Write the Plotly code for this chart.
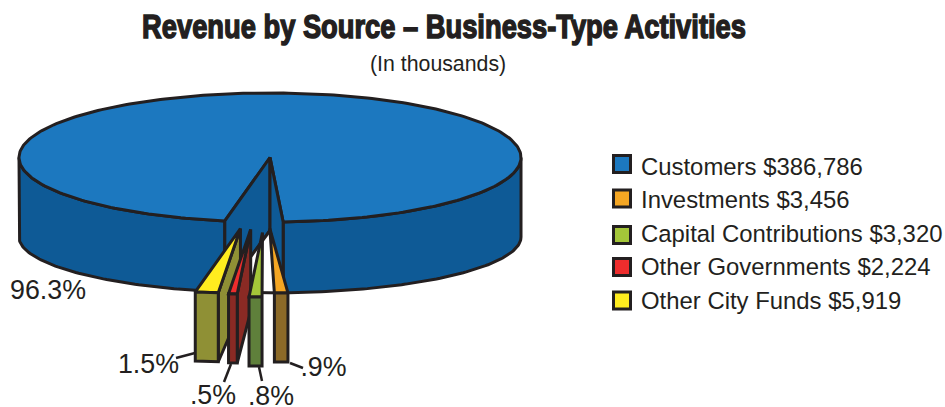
import numpy as np
import plotly.graph_objects as go

# Revenue by source, in thousands of dollars
sources = ["Customers", "Investments", "Capital Contributions", "Other Governments", "Other City Funds"]
revenue = [386786, 3456, 3320, 2224, 5919]
percent_labels = ["96.3%", ".9%", ".8%", ".5%", "1.5%"]

top_colors = ["#1c78bf", "#f5a623", "#a4c639", "#ee2d2d", "#ffec1f"]
side_colors = ["#0e5a96", "#8c6a28", "#5f803b", "#8a2a24", "#8f9035"]
INK = "#231f20"

# Projection of the tilted pie, expressed in the pixel-like axis units
CX, CY, RX, RY = 270, 157.5, 251, 64.5     # top ellipse
BASE_CY, BASE_RY = 237, 56                 # bottom ellipse (perspective squeezes it)
APEX_DROP = 73                             # height of the cut-out walls at the centre
FRONT_DROP = 69                            # height of a pulled-out slice's front face
TIP_DROP = 82                              # height of a pulled-out slice at its tip
START_DEG = 87                             # where the first small slice begins

# How the small slices are pulled out (Investments .. Other City Funds)
pull_radius = [190, 272, 272, 220]
pull_drop = [71, 75, 72, 71]
tip_nudge = [-5, 0, 0, 0]

TEXT_DY = 2.5                              # optical centring of scatter text


def top_pt(t):
    r = np.radians(t)
    return CX + RX * np.cos(r), CY + RY * np.sin(r)


def base_pt(t):
    r = np.radians(t)
    return CX + RX * np.cos(r), BASE_CY + BASE_RY * np.sin(r)


def polygon(xs, ys, fill, width=3):
    xs, ys = list(xs), list(ys)
    return go.Scatter(
        x=xs + xs[:1], y=ys + ys[:1], mode="lines", fill="toself", fillcolor=fill,
        line=dict(color=INK, width=width), hoverinfo="skip", showlegend=False,
    )


def stroke(xs, ys, width=2.5):
    return go.Scatter(x=xs, y=ys, mode="lines", line=dict(color=INK, width=width),
                      hoverinfo="skip", showlegend=False)


def label(x, y, text, size, anchor="middle center"):
    return go.Scatter(x=[x], y=[y + TEXT_DY], mode="text", text=[text], textposition=anchor,
                      textfont=dict(family="Liberation Sans, Arial", size=size, color=INK),
                      hoverinfo="skip", showlegend=False, cliponaxis=False)


# Slice sweeps come straight from the revenue figures
total = sum(revenue)
sweeps = [v / total * 360 for v in revenue]
edges = [START_DEG]
for s in sweeps[1:]:
    edges.append(edges[-1] + s)
cut_start, cut_end = edges[0], edges[-1]

traces = []

# Outer wall of the large slice, either side of the cut-out
for lo, hi in ((cut_end, 180), (0, cut_start)):
    ts = np.linspace(lo, hi, 80)
    tx, ty = top_pt(ts)
    bx, by = base_pt(ts)
    traces.append(polygon(np.r_[tx, bx[::-1]], np.r_[ty, by[::-1]], side_colors[0]))

# Top face of the large slice
ts = np.linspace(cut_end, cut_start + 360, 300)
tx, ty = top_pt(ts)
traces.append(polygon(np.r_[tx, CX], np.r_[ty, CY], top_colors[0]))

# Floor and inner walls of the cut-out
xa, ya = top_pt(cut_end)
xb, yb = top_pt(cut_start)
bxa, bya = base_pt(cut_end)
bxb, byb = base_pt(cut_start)
apex_y = CY + APEX_DROP
traces.append(polygon([xa, CX, CX, bxa], [ya, CY, apex_y, bya], side_colors[0]))
traces.append(polygon([xb, CX, CX, bxb], [yb, CY, apex_y, byb], side_colors[0]))
traces.append(polygon([CX, bxa, bxb], [apex_y, bya, byb], "#ffffff"))

# Pulled-out slices, drawn from the far left towards the right
for i in (4, 3, 2, 1):
    j = i - 1
    lo, hi = edges[j], edges[j + 1]
    mid = np.radians((lo + hi) / 2)
    dx = pull_radius[j] * np.cos(mid)
    dy = pull_drop[j]
    ts = np.linspace(lo, hi, 12)
    ax, ay = top_pt(ts)
    ax, ay = ax + dx, ay + dy
    tip_x, tip_y = CX + dx + tip_nudge[j], CY + dy
    # ax runs right to left as the angle grows
    if tip_x > ax[0] + 0.5:
        traces.append(polygon(
            [ax[0], tip_x, tip_x, ax[0]],
            [ay[0], tip_y, tip_y + TIP_DROP, ay[0] + FRONT_DROP],
            side_colors[i],
        ))
    traces.append(polygon(np.r_[ax, tip_x], np.r_[ay, tip_y], top_colors[i]))
    traces.append(polygon(np.r_[ax, ax[::-1]], np.r_[ay, ay[::-1] + FRONT_DROP], side_colors[i]))

# Leader lines from the front faces to the percentage labels
traces.append(stroke([195, 176], [353, 358]))
traces.append(stroke([231, 224], [364, 382]))
traces.append(stroke([259, 262], [367, 381]))
traces.append(stroke([290, 303], [363, 368]))

traces.append(label(48, 290, percent_labels[0], 26.8))
traces.append(label(323.5, 366.5, percent_labels[1], 26.8))
traces.append(label(271, 396, percent_labels[2], 26.8))
traces.append(label(213, 395, percent_labels[3], 26.8))
traces.append(label(148.5, 364, percent_labels[4], 26.8))

# Key on the right-hand side
key_rows = [167, 200, 234, 267, 301]
swatch_rows = [164, 198.5, 235, 267, 300.5]
for row, swatch, name, value, color in zip(key_rows, swatch_rows, sources, revenue, top_colors):
    traces.append(go.Scatter(
        x=[622], y=[swatch], mode="markers",
        marker=dict(symbol="square", size=17, color=color, line=dict(color=INK, width=3)),
        hoverinfo="skip", showlegend=False,
    ))
    traces.append(label(641, row, f"{name} ${value:,}", 23.9, "middle right"))

fig = go.Figure(traces)
fig.update_layout(
    width=945, height=407, margin=dict(l=0, r=0, t=0, b=0),
    paper_bgcolor="#ffffff", plot_bgcolor="#ffffff",
    xaxis=dict(range=[0, 945], visible=False, fixedrange=True),
    yaxis=dict(range=[407, 0], visible=False, fixedrange=True),
    title=dict(
        text="<b>Revenue by Source – Business-Type Activities</b>",
        x=444 / 945, xanchor="center", xref="paper",
        y=1 - 26 / 407, yanchor="middle", yref="paper",
        font=dict(family="Liberation Sans", size=34, color=INK),
    ),
    annotations=[dict(
        text="(In thousands)", x=438, y=64, xref="x", yref="y", showarrow=False,
        font=dict(family="Liberation Sans, Arial", size=21.3, color=INK),
    )],
)

# Heading set in a heavy condensed cut: squeeze the bold face horizontally and thicken it
condense_title = """
var t = document.querySelector('.gtitle');
if (t) {
  var b = t.getBBox();
  var cx = b.x + b.width / 2;
  t.setAttribute('transform', 'translate(' + cx + ',0) scale(' + (604 / b.width) + ',1) translate(' + (-cx) + ',0)');
  t.style.stroke = '#231f20';
  t.style.strokeWidth = '1.5px';
}
"""
fig.write_html("out.html", post_script=condense_title)
